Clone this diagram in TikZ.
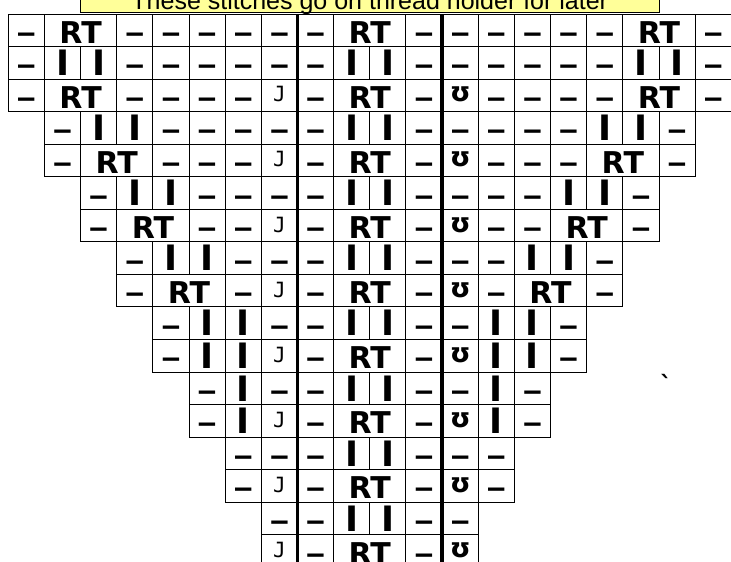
\documentclass[tikz,border=0pt]{standalone}
\usepackage{fontspec}
\setmainfont{Liberation Sans}
\newfontfamily\chartfont{DejaVu Sans}
\newfontfamily\hookfont{DejaVu Sans Mono}
\definecolor{notebg}{HTML}{FFFF99}

\begin{document}
\begin{tikzpicture}[x=1pt,y=-1pt,
  cellline/.style={draw=black, line width=1pt},
  divider/.style={draw=black, line width=3.5pt},
  dashsym/.style={inner sep=0pt, anchor=base, yshift=-13pt, font={\fontsize{33}{33}\selectfont\bfseries}},
  barsym/.style={inner sep=0pt, font={\fontsize{35}{35}\chartfont\bfseries}},
  rtsym/.style={inner sep=0pt, anchor=base, yshift=-13pt, font={\fontsize{30}{30}\chartfont\bfseries}},
  hooksym/.style={inner sep=0pt, anchor=base, yshift=-6.5pt, font={\fontsize{21}{21}\hookfont}},
  loopsym/.style={inner sep=0pt, anchor=base, yshift=-6.5pt, font={\fontsize{27}{27}\chartfont\bfseries}}]
\def\cw{36.15}
\def\rh{32.55}
\def\xo{8.3}
\def\yo{14}

%% Page frame (the chart is cut off at the bottom and on the right)
\useasboundingbox (0,0) rectangle (731,562);
\clip (0,0) rectangle (731,562);

%% One stitch box: column, row, width in columns, style, symbol
\def\stitch#1#2#3#4#5{%
  \draw[cellline] ({\xo+#1*\cw},{\yo+(#2-1)*\rh}) rectangle ++({#3*\cw},\rh);
  \node[#4] (r#2c#1) at ({\xo+(#1+#3/2)*\cw},{\yo+(#2-0.5)*\rh}) {#5};}
\def\dd#1{\stitch{#1}{\rw}{1}{dashsym}{–}}
\def\ii#1{\stitch{#1}{\rw}{1}{barsym}{I}}
\def\jj#1{\stitch{#1}{\rw}{1}{hooksym}{J}}
\def\uu#1{\stitch{#1}{\rw}{1}{loopsym}{ʊ}}
\def\rt#1{\stitch{#1}{\rw}{2}{rtsym}{RT}}

%% Note over the top
\draw[cellline, fill=notebg] ({\xo+2*\cw},-10) rectangle ({\xo+18*\cw},12.5);
\node[anchor=base, inner sep=0pt, font=\fontsize{25}{25}\selectfont] (note)
  at ({\xo+10*\cw},9.5) {These stitches go on thread holder for later};

%% Rows, top to bottom
\def\rw{1} \dd{0}\rt{1}\dd{3}\dd{4}\dd{5}\dd{6}\dd{7}\dd{8}\rt{9}\dd{11}\dd{12}\dd{13}\dd{14}\dd{15}\dd{16}\rt{17}\dd{19}
\def\rw{2} \dd{0}\ii{1}\ii{2}\dd{3}\dd{4}\dd{5}\dd{6}\dd{7}\dd{8}\ii{9}\ii{10}\dd{11}\dd{12}\dd{13}\dd{14}\dd{15}\dd{16}\ii{17}\ii{18}\dd{19}
\def\rw{3} \dd{0}\rt{1}\dd{3}\dd{4}\dd{5}\dd{6}\jj{7}\dd{8}\rt{9}\dd{11}\uu{12}\dd{13}\dd{14}\dd{15}\dd{16}\rt{17}\dd{19}
\def\rw{4} \dd{1}\ii{2}\ii{3}\dd{4}\dd{5}\dd{6}\dd{7}\dd{8}\ii{9}\ii{10}\dd{11}\dd{12}\dd{13}\dd{14}\dd{15}\ii{16}\ii{17}\dd{18}
\def\rw{5} \dd{1}\rt{2}\dd{4}\dd{5}\dd{6}\jj{7}\dd{8}\rt{9}\dd{11}\uu{12}\dd{13}\dd{14}\dd{15}\rt{16}\dd{18}
\def\rw{6} \dd{2}\ii{3}\ii{4}\dd{5}\dd{6}\dd{7}\dd{8}\ii{9}\ii{10}\dd{11}\dd{12}\dd{13}\dd{14}\ii{15}\ii{16}\dd{17}
\def\rw{7} \dd{2}\rt{3}\dd{5}\dd{6}\jj{7}\dd{8}\rt{9}\dd{11}\uu{12}\dd{13}\dd{14}\rt{15}\dd{17}
\def\rw{8} \dd{3}\ii{4}\ii{5}\dd{6}\dd{7}\dd{8}\ii{9}\ii{10}\dd{11}\dd{12}\dd{13}\ii{14}\ii{15}\dd{16}
\def\rw{9} \dd{3}\rt{4}\dd{6}\jj{7}\dd{8}\rt{9}\dd{11}\uu{12}\dd{13}\rt{14}\dd{16}
\def\rw{10} \dd{4}\ii{5}\ii{6}\dd{7}\dd{8}\ii{9}\ii{10}\dd{11}\dd{12}\ii{13}\ii{14}\dd{15}
\def\rw{11} \dd{4}\ii{5}\ii{6}\jj{7}\dd{8}\rt{9}\dd{11}\uu{12}\ii{13}\ii{14}\dd{15}
\def\rw{12} \dd{5}\ii{6}\dd{7}\dd{8}\ii{9}\ii{10}\dd{11}\dd{12}\ii{13}\dd{14}
\def\rw{13} \dd{5}\ii{6}\jj{7}\dd{8}\rt{9}\dd{11}\uu{12}\ii{13}\dd{14}
\def\rw{14} \dd{6}\dd{7}\dd{8}\ii{9}\ii{10}\dd{11}\dd{12}\dd{13}
\def\rw{15} \dd{6}\jj{7}\dd{8}\rt{9}\dd{11}\uu{12}\dd{13}
\def\rw{16} \dd{7}\dd{8}\ii{9}\ii{10}\dd{11}\dd{12}
\def\rw{17} \jj{7}\dd{8}\rt{9}\dd{11}\uu{12}

%% Heavy lines either side of the centre panel
\draw[divider] ({\xo+8*\cw},\yo) -- ({\xo+8*\cw},580);
\draw[divider] ({\xo+12*\cw},\yo) -- ({\xo+12*\cw},580);

%% Stray mark right of the chart
\node[inner sep=0pt, font={\fontsize{24}{24}\chartfont\bfseries}] (tick) at (666,384) {\textasciigrave};

\end{tikzpicture}
\end{document}
